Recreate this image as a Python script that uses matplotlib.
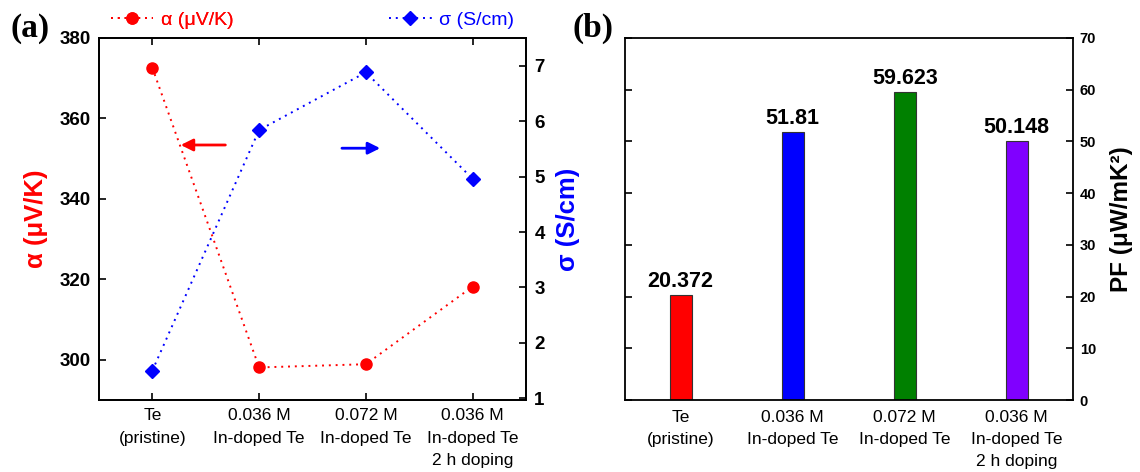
import numpy as np
import matplotlib
matplotlib.use('Agg')
import matplotlib.pyplot as plt
from matplotlib.lines import Line2D

# ---------- dados ----------
categorias = ['Te\n(pristine)', '0.036 M\nIn-doped Te', '0.072 M\nIn-doped Te',
              '0.036 M\nIn-doped Te\n2 h doping']
alpha_vals = [372.6, 298.1, 298.9, 318.2]     # µV/K
sigma_vals = [1.50, 5.84, 6.88, 4.96]         # S/cm
pf_vals = [20.372, 51.81, 59.623, 50.148]     # µW/mK^2
pf_labels = ['20.372', '51.81', '59.623', '50.148']
alpha_ticks = [300, 320, 340, 360, 380]
sigma_ticks = [1, 2, 3, 4, 5, 6, 7]
pf_ticks = [0, 10, 20, 30, 40, 50, 60, 70]
bar_cores = ['#ff0000', '#0000ff', '#008000', '#8000ff']
# ---------------------------

SANS = 'Liberation Sans'
SERIF = 'Liberation Serif'
plt.rcParams['font.family'] = [SANS, 'DejaVu Sans']
plt.rcParams['axes.linewidth'] = 1.3

fig = plt.figure(figsize=(11.4, 4.72), dpi=100)
ax = fig.add_axes([0.0868, 0.1525, 0.3746, 0.767])
ax2 = ax.twinx()
bx = fig.add_axes([0.548, 0.1525, 0.393, 0.767])

x = np.arange(len(categorias))
RED = '#ff0000'
BLUE = '#0000ff'
PONTILHADO = (0, (1, 2.5))

# painel (a)
ax.plot(x, alpha_vals, ls=PONTILHADO, lw=1.4, color=RED, marker='o', ms=8, zorder=3)
ax2.plot(x, sigma_vals, ls=PONTILHADO, lw=1.4, color=BLUE, marker='D', ms=7, zorder=3)
ax.set_xlim(-0.5, 3.5)
ax.set_ylim(290, 380)
ax2.set_ylim(0.97, 7.5)
ax.set_xticks(x)
ax.set_xticklabels(categorias, fontsize=12.5, linespacing=1.6)
ax.set_yticks(alpha_ticks)
ax2.set_yticks(sigma_ticks)
for lab in ax.get_yticklabels() + ax2.get_yticklabels():
    lab.set_fontweight('bold')
    lab.set_fontsize(13.5)
ax.tick_params(axis='both', direction='in', length=5, width=1.2, top=True)
ax.tick_params(axis='x', pad=6)
ax.tick_params(axis='y', pad=6)
ax2.tick_params(axis='y', direction='in', length=5, width=1.2, pad=6)
ax.set_ylabel('α (μV/K)', color=RED, fontsize=18.5, fontweight='bold', labelpad=8)
ax2.set_ylabel('σ (S/cm)', color=BLUE, fontsize=18.5, fontweight='bold', labelpad=8)

# setas
ax.annotate('', xy=(0.24, 353.4), xytext=(0.71, 353.4),
            arrowprops=dict(arrowstyle='-|>', color=RED, lw=2, mutation_scale=18))
ax.annotate('', xy=(2.16, 352.6), xytext=(1.75, 352.6),
            arrowprops=dict(arrowstyle='-|>', color=BLUE, lw=2, mutation_scale=18))

# legendas
h1 = Line2D([], [], ls=PONTILHADO, lw=1.4, color=RED, marker='o', ms=8)
h2 = Line2D([], [], ls=PONTILHADO, lw=1.4, color=BLUE, marker='D', ms=7)
leg1 = ax.legend([h1], ['α (μV/K)'], loc='center left', bbox_to_anchor=(0.097, 0.958),
                 bbox_transform=fig.transFigure, frameon=False, fontsize=14,
                 labelcolor=RED, handlelength=2.2, handletextpad=0.4,
                 borderpad=0, borderaxespad=0)
ax.add_artist(leg1)
ax2.legend([h2], ['σ (S/cm)'], loc='center left', bbox_to_anchor=(0.341, 0.958),
           bbox_transform=fig.transFigure, frameon=False, fontsize=14,
           labelcolor=BLUE, handlelength=2.2, handletextpad=0.4,
           borderpad=0, borderaxespad=0)

# painel (b)
barras = bx.bar(x, pf_vals, width=0.2, color=bar_cores, edgecolor='#333333', lw=0.8)
bx.bar_label(barras, labels=pf_labels, padding=2, fontsize=15.5, fontweight='bold')
bx.set_xlim(-0.5, 3.5)
bx.set_ylim(0, 70)
bx.set_xticks(x)
bx.set_xticklabels(categorias, fontsize=12.5, linespacing=1.6)
bx.set_yticks(pf_ticks)
bx.tick_params(axis='x', length=0, pad=7)
bx.tick_params(axis='y', direction='in', length=5, width=1.2, left=True, right=True,
               labelleft=False, labelright=True, labelsize=10.5, pad=5)
for lab in bx.get_yticklabels():
    lab.set_fontweight('bold')
bx.yaxis.set_label_position('right')
bx.set_ylabel('PF (μW/mK²)', fontsize=17.5, fontweight='bold', labelpad=10)

fig.text(0.009, 0.94, '(a)', fontsize=24, fontweight='bold', family=SERIF, va='center')
fig.text(0.502, 0.94, '(b)', fontsize=24, fontweight='bold', family=SERIF, va='center')

fig.savefig('out.png', dpi=100)
